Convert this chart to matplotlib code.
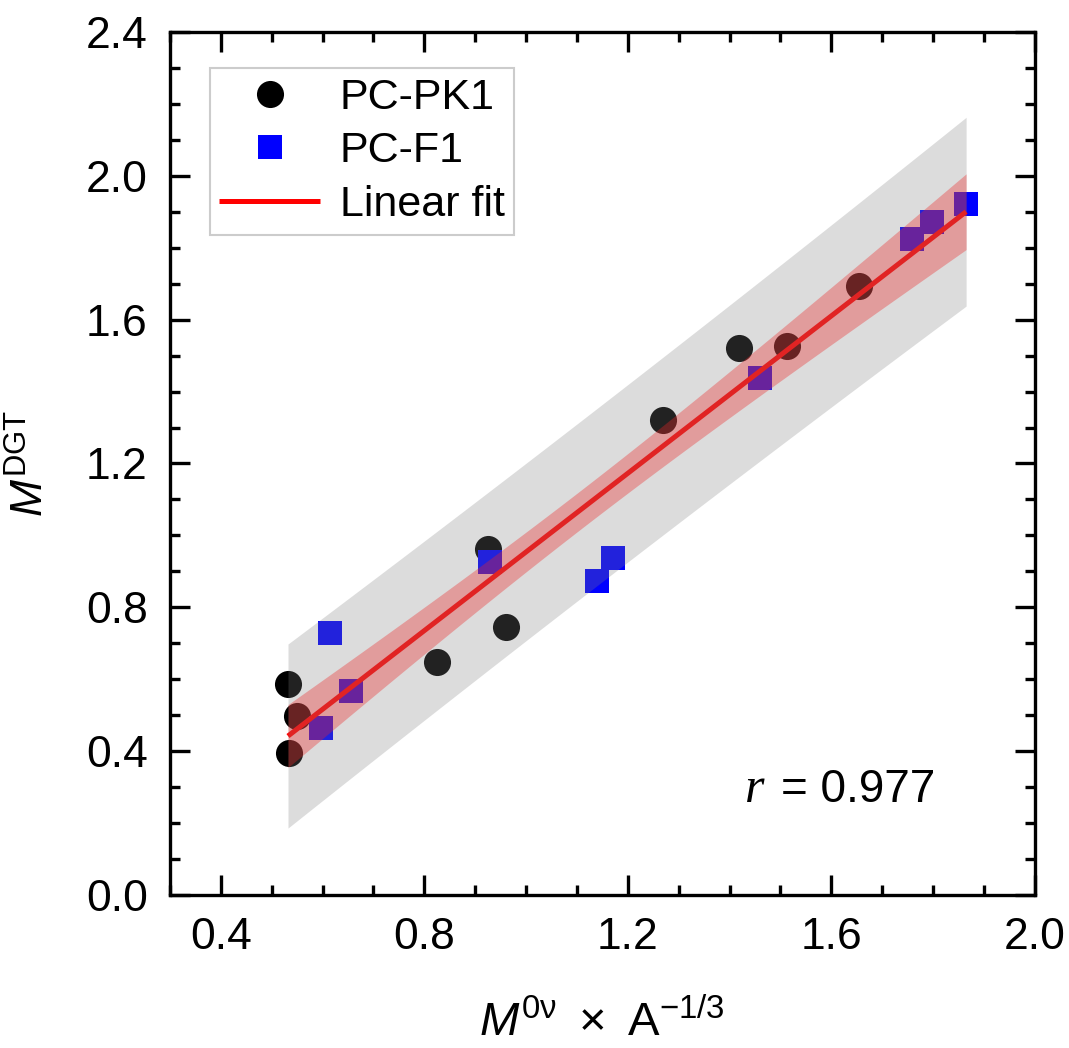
import numpy as np
import matplotlib
matplotlib.use("Agg")
import matplotlib.pyplot as plt
from matplotlib.ticker import MultipleLocator

# data
pk1_x = [0.532, 0.550, 0.534, 0.825, 0.925, 0.960, 1.269, 1.418, 1.513, 1.654]
pk1_y = [0.587, 0.498, 0.395, 0.648, 0.962, 0.745, 1.321, 1.521, 1.527, 1.694]
f1_x = [0.614, 0.656, 0.597, 0.929, 1.139, 1.171, 1.460, 1.758, 1.798, 1.865]
f1_y = [0.729, 0.567, 0.464, 0.926, 0.873, 0.937, 1.438, 1.824, 1.872, 1.922]
r_text = "0.977"
t_975 = 2.101  # t quantile, 18 dof

plt.rcParams['font.family'] = ['Liberation Sans', 'DejaVu Sans']
plt.rcParams['mathtext.fontset'] = 'custom'
plt.rcParams['mathtext.rm'] = 'Liberation Sans'
plt.rcParams['mathtext.it'] = 'Liberation Sans:italic'

fig = plt.figure(figsize=(10.69, 10.48), dpi=100)
ax = fig.add_axes([0.159, 0.146, 0.809, 0.8235])

# scatter
ax.plot(pk1_x, pk1_y, 'o', color='black', ms=19.5, mew=0, label='PC-PK1', zorder=2)
ax.plot(f1_x, f1_y, 's', color='#0000ff', ms=17.5, mew=0, label='PC-F1', zorder=2)

# linear fit with confidence / prediction bands
x_all = np.array(pk1_x + f1_x)
y_all = np.array(pk1_y + f1_y)
n = len(x_all)
slope, icpt = np.polyfit(x_all, y_all, 1)
resid = y_all - (slope * x_all + icpt)
s = np.sqrt(np.sum(resid ** 2) / (n - 2))
xm = x_all.mean()
sxx = np.sum((x_all - xm) ** 2)
xx = np.linspace(x_all.min(), x_all.max(), 200)
yy = slope * xx + icpt
conf = t_975 * s * np.sqrt(1.0 / n + (xx - xm) ** 2 / sxx)
pred = t_975 * s * np.sqrt(1 + 1.0 / n + (xx - xm) ** 2 / sxx)

ax.plot(xx, yy, color='#ff0000', lw=3.6, label='Linear fit', zorder=3, solid_capstyle='butt')
ax.fill_between(xx, yy - pred, yy + pred, color=(126 / 255, 126 / 255, 126 / 255), alpha=0.27, lw=0, zorder=4)
ax.fill_between(xx, yy - conf, yy + conf, color=(237 / 255, 37 / 255, 37 / 255), alpha=0.35, lw=0, zorder=5)

# axes
ax.set_xlim(0.3, 2.0)
ax.set_ylim(0.0, 2.4)
ax.xaxis.set_minor_locator(MultipleLocator(0.1))
ax.yaxis.set_major_locator(MultipleLocator(0.4))
ax.yaxis.set_minor_locator(MultipleLocator(0.1))
ax.set_xticks([0.4, 0.8, 1.2, 1.6, 2.0])
ax.set_xticklabels(['0.4', '0.8', '1.2', '1.6', '2.0'])
ax.tick_params(which='both', direction='in', top=True, right=True, width=2.4, labelsize=32)
ax.tick_params(which='major', length=14.5, pad=16)
ax.tick_params(which='minor', length=7)
for sp in ax.spines.values():
    sp.set_linewidth(2.4)

ax.set_xlabel(r'$\mathit{M}^{\mathrm{0\nu}}\ \times\ \mathrm{A}^{-1/3}$', fontsize=34, labelpad=30)
ax.set_ylabel(r'$\mathit{M}^{\mathrm{DGT}}$', fontsize=32, labelpad=24)

# r annotation
ax.text(0.688, 0.122, 'r', transform=ax.transAxes, fontsize=36, family='Liberation Serif',
        style='italic', ha='right', va='center')
ax.text(0.706, 0.122, '= ' + r_text, transform=ax.transAxes, fontsize=33, ha='left', va='center')

leg = ax.legend(loc='upper left', bbox_to_anchor=(0.046, 0.958), borderaxespad=0, fontsize=31,
                handlelength=2.35, handletextpad=0.45, labelspacing=0.32, borderpad=0.22,
                fancybox=False, framealpha=1, edgecolor='#cccccc')
leg.get_frame().set_linewidth(1.5)

fig.savefig('out.png', dpi=100)
